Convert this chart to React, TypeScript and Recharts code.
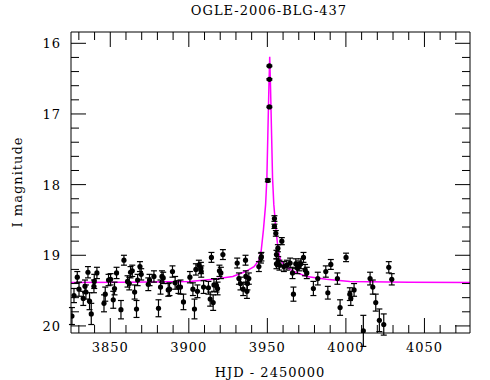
// OGLE-2006-BLG-437 light curve: I-band photometry with error bars and the fitted model
import { ComposedChart, Line, Scatter, ErrorBar, XAxis, YAxis } from 'recharts'

const obsDay = [
  3825.6, 3826.9, 3829.0, 3830.1, 3832.8, 3833.9, 3834.5, 3835.8, 3836.8, 3837.9,
  3839.6, 3839.8, 3841.5, 3846.0, 3846.8, 3848.9, 3850.2, 3851.9, 3852.7, 3854.0,
  3856.8, 3858.7, 3861.0, 3862.1, 3862.9, 3864.0, 3865.5, 3866.7, 3867.4, 3868.9,
  3869.7, 3874.2, 3875.0, 3877.8, 3880.7, 3882.0, 3882.9, 3883.7, 3886.9, 3887.7,
  3889.6, 3891.3, 3893.4, 3894.7, 3896.6, 3900.7, 3902.6, 3903.6, 3904.5, 3905.5,
  3906.4, 3907.7, 3907.9, 3909.4, 3912.5, 3913.6, 3914.4, 3915.5, 3916.0, 3917.6,
  3918.3, 3919.5, 3920.4, 3921.7, 3930.8, 3931.9, 3932.9, 3934.6, 3936.1, 3936.3,
  3937.3, 3938.2, 3937.0, 3944.6, 3945.9, 3946.2, 3950.3, 3951.3, 3951.3, 3951.3,
  3954.5, 3954.5, 3955.4, 3959.2, 3956.7, 3955.8, 3955.8, 3956.9, 3957.7, 3960.5,
  3962.4, 3964.5, 3966.0, 3966.6, 3968.1, 3969.1, 3970.2, 3971.3, 3973.0, 3974.0,
  3975.1, 3979.3, 3982.1, 3987.2, 3988.5, 3990.4, 3994.6, 3996.3, 4000.1, 4002.5,
  4003.1, 4005.2, 4011.1, 4015.4, 4017.1, 4019.0, 4021.3, 4024.1, 4027.3, 4029.2,
]
const obsMag = [
  19.86, 19.57, 19.31, 19.48, 19.61, 19.44, 19.52, 19.24, 19.65, 19.83,
  19.44, 19.37, 19.25, 19.68, 19.55, 19.35, 19.34, 19.63, 19.47, 19.25,
  19.77, 19.07, 19.37, 19.4, 19.24, 19.22, 19.52, 19.76, 19.35, 19.16,
  19.27, 19.41, 19.35, 19.3, 19.75, 19.45, 19.3, 19.32, 19.49, 19.48,
  19.23, 19.39, 19.45, 19.45, 19.66, 19.31, 19.48, 19.76, 19.2, 19.51,
  19.14, 19.18, 19.23, 19.45, 19.46, 19.62, 19.03, 19.67, 19.42, 19.43,
  19.47, 19.22, 19.25, 18.99, 19.11, 19.33, 19.4, 19.48, 19.07, 19.3,
  19.4, 19.33, 19.51, 19.16, 19.04, 19.02, 17.94, 16.9, 16.51, 16.32,
  18.48, 18.59, 18.69, 18.8, 18.9, 18.99, 19.12, 19.09, 19.14, 19.16,
  19.14, 19.11, 19.25, 19.55, 19.12, 19.18, 19.15, 19.12, 19.03, 19.21,
  19.25, 19.47, 19.33, 19.23, 19.53, 19.13, 19.33, 19.74, 19.03, 19.55,
  19.61, 19.49, 20.07, 19.33, 19.45, 19.67, 19.92, 19.98, 19.17, 19.34,
]
const obsErr = [
  0.12, 0.1, 0.08, 0.1, 0.1, 0.09, 0.1, 0.08, 0.12, 0.15,
  0.09, 0.1, 0.08, 0.12, 0.1, 0.08, 0.08, 0.12, 0.09, 0.08,
  0.13, 0.07, 0.08, 0.09, 0.08, 0.08, 0.1, 0.12, 0.08, 0.07,
  0.08, 0.09, 0.08, 0.08, 0.12, 0.1, 0.08, 0.08, 0.09, 0.09,
  0.08, 0.09, 0.09, 0.1, 0.11, 0.08, 0.09, 0.14, 0.08, 0.09,
  0.07, 0.08, 0.08, 0.09, 0.09, 0.1, 0.07, 0.11, 0.09, 0.09,
  0.09, 0.08, 0.08, 0.07, 0.07, 0.08, 0.09, 0.09, 0.07, 0.08,
  0.09, 0.08, 0.1, 0.07, 0.07, 0.06, 0.02, 0.01, 0.01, 0.01,
  0.04, 0.03, 0.04, 0.05, 0.05, 0.06, 0.07, 0.07, 0.07, 0.07,
  0.07, 0.07, 0.08, 0.1, 0.07, 0.08, 0.07, 0.07, 0.07, 0.08,
  0.08, 0.1, 0.09, 0.08, 0.09, 0.07, 0.08, 0.11, 0.06, 0.09,
  0.1, 0.09, 0.22, 0.09, 0.1, 0.12, 0.16, 0.15, 0.08, 0.08,
]

// model curve
const modelDay = [
  3825, 3860, 3900.5, 3915.5, 3928, 3936.1, 3941.5, 3944.6, 3946.1, 3947.5,
  3948.9, 3949.7, 3950.3, 3951, 3951.5, 3952, 3952.7, 3953.3, 3954.1, 3955.5,
  3956.9, 3958.4, 3961.5, 3966.9, 3975, 3987.5, 4002.5, 4040, 4079,
]
const modelMag = [
  19.385, 19.38, 19.37, 19.34, 19.3, 19.23, 19.16, 19.07, 18.93, 18.64,
  18.28, 17.9, 17.3, 16.6, 16.19, 16.6, 17.3, 17.9, 18.28, 18.64,
  18.93, 19.07, 19.16, 19.23, 19.3, 19.34, 19.37, 19.38, 19.385,
]

const xTicks = [
  3830, 3840, 3850, 3860, 3870, 3880, 3890, 3900, 3910, 3920, 3930, 3940, 3950,
  3960, 3970, 3980, 3990, 4000, 4010, 4020, 4030, 4040, 4050, 4060, 4070,
]
const yTicks = [
  16, 16.2, 16.4, 16.6, 16.8, 17, 17.2, 17.4, 17.6, 17.8, 18, 18.2, 18.4, 18.6,
  18.8, 19, 19.2, 19.4, 19.6, 19.8, 20,
]

const points = obsDay.map((d, i) => ({ hjd: d, mag: obsMag[i], err: obsErr[i] }))
const model = modelDay.map((d, i) => ({ hjd: d, mag: modelMag[i] }))

const FONT = '"DejaVu Serif", serif'
const BIG = 15
const SMALL = 8

const isMajorX = (v: number) => v % 50 === 0
const isMajorY = (v: number) => Math.abs(v - Math.round(v)) < 1e-6

function BottomTick({ x, y, payload }: any) {
  const v = payload.value
  const major = isMajorX(v)
  return (
    <g>
      <line x1={x} x2={x} y1={y} y2={y - (major ? BIG : SMALL)} stroke="#000" />
      {major && (
        <text x={x} y={y + 19} textAnchor="middle" fontSize={13} fontFamily={FONT} fill="#000" letterSpacing={1}>
          {v}
        </text>
      )}
    </g>
  )
}

function TopTick({ x, y, payload }: any) {
  const len = isMajorX(payload.value) ? BIG : SMALL
  return <line x1={x} x2={x} y1={y} y2={y + len} stroke="#000" />
}

function LeftTick({ x, y, payload }: any) {
  const v = payload.value
  const major = isMajorY(v)
  return (
    <g>
      <line x1={x} x2={x + (major ? BIG : SMALL)} y1={y} y2={y} stroke="#000" />
      {major && (
        <text x={x - 10} y={y + 5} textAnchor="end" fontSize={13} fontFamily={FONT} fill="#000" letterSpacing={1}>
          {Math.round(v)}
        </text>
      )}
    </g>
  )
}

function RightTick({ x, y, payload }: any) {
  const len = isMajorY(payload.value) ? BIG : SMALL
  return <line x1={x} x2={x - len} y1={y} y2={y} stroke="#000" />
}

const Dot = ({ cx, cy }: any) => <circle cx={cx} cy={cy} r={2.6} fill="#000" />

const label: React.CSSProperties = {
  position: 'absolute',
  fontFamily: FONT,
  fontSize: 13,
  letterSpacing: 1,
  whiteSpace: 'nowrap',
  color: '#000',
  transform: 'translate(-50%, -50%)',
}

export default function App() {
  const xDomain = [3825, 4079]
  const yDomain = [15.84, 20.1]
  return (
    <div style={{ position: 'absolute', left: 0, top: 0, width: 490, height: 380, background: '#fff' }}>
      <ComposedChart width={490} height={380} margin={{ top: 31, right: 19, bottom: 46, left: 70 }}>
        <XAxis
          xAxisId="b"
          type="number"
          dataKey="hjd"
          domain={xDomain}
          allowDataOverflow
          ticks={xTicks}
          interval={0}
          height={1}
          tickSize={0}
          tickMargin={0}
          tickLine={false}
          axisLine={{ stroke: '#000' }}
          tick={<BottomTick />}
        />
        <XAxis
          xAxisId="t"
          orientation="top"
          type="number"
          dataKey="hjd"
          domain={xDomain}
          allowDataOverflow
          ticks={xTicks}
          interval={0}
          height={1}
          tickSize={0}
          tickMargin={0}
          tickLine={false}
          axisLine={{ stroke: '#000' }}
          tick={<TopTick />}
        />
        <YAxis
          yAxisId="l"
          type="number"
          dataKey="mag"
          domain={yDomain}
          reversed
          allowDataOverflow
          ticks={yTicks}
          interval={0}
          width={1}
          tickSize={0}
          tickMargin={0}
          tickLine={false}
          axisLine={{ stroke: '#000' }}
          tick={<LeftTick />}
        />
        <YAxis
          yAxisId="r"
          orientation="right"
          type="number"
          dataKey="mag"
          domain={yDomain}
          reversed
          allowDataOverflow
          ticks={yTicks}
          interval={0}
          width={1}
          tickSize={0}
          tickMargin={0}
          tickLine={false}
          axisLine={{ stroke: '#000' }}
          tick={<RightTick />}
        />
        {/* invisible copy so the top/right frame axes have a series */}
        <Line
          data={model}
          xAxisId="t"
          yAxisId="r"
          dataKey="mag"
          stroke="none"
          dot={false}
          isAnimationActive={false}
        />
        <Line
          data={model}
          xAxisId="b"
          yAxisId="l"
          type="linear"
          dataKey="mag"
          stroke="#ff00ff"
          strokeWidth={1.5}
          dot={false}
          isAnimationActive={false}
        />
        <Scatter
          data={points}
          xAxisId="b"
          yAxisId="l"
          dataKey="mag"
          shape={<Dot />}
          isAnimationActive={false}
        >
          <ErrorBar dataKey="err" direction="y" width={3} stroke="#000" strokeWidth={1.2} />
        </Scatter>
      </ComposedChart>
      <div style={{ ...label, left: 269, top: 10 }}>OGLE-2006-BLG-437</div>
      <div style={{ ...label, left: 270, top: 372 }}>HJD - 2450000</div>
      <div style={{ ...label, left: 17, top: 182, transform: 'translate(-50%, -50%) rotate(-90deg)' }}>
        I magnitude
      </div>
    </div>
  )
}
